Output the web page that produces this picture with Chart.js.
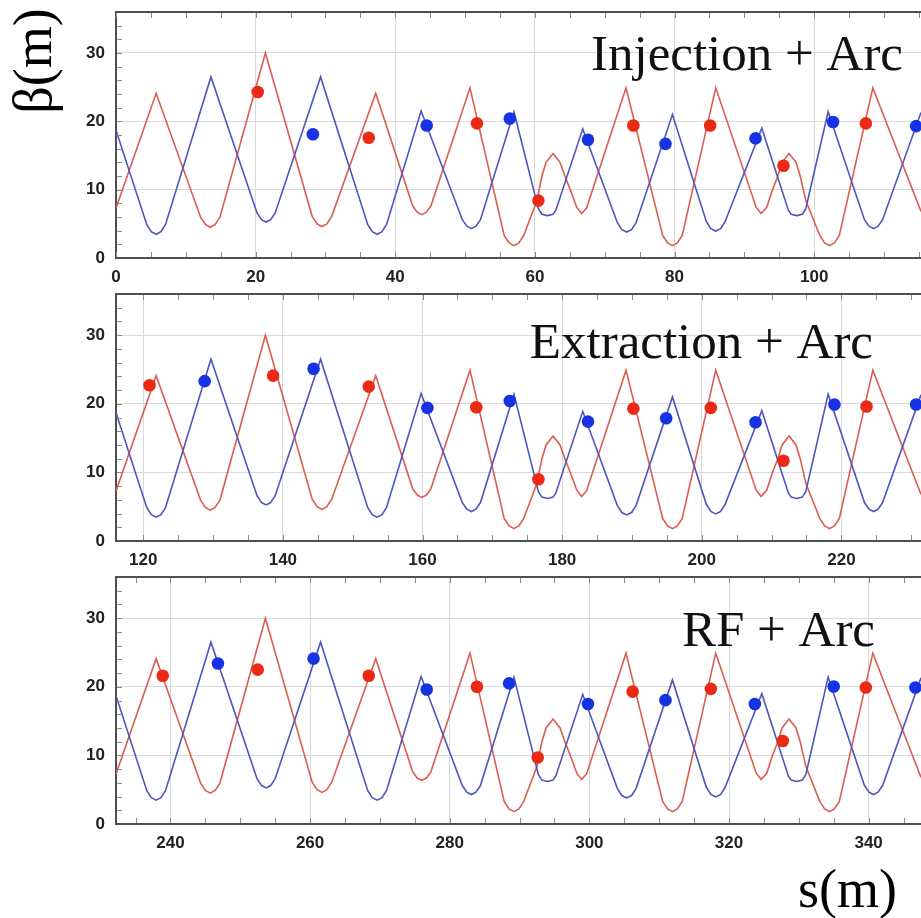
<!DOCTYPE html>
<html><head><meta charset="utf-8">
<script src="https://cdn.jsdelivr.net/npm/chart.js@4.4.1/dist/chart.umd.min.js"></script>
<style>
html,body{margin:0;padding:0;background:#fff;width:921px;height:918px;overflow:hidden;position:relative}
canvas{position:absolute;left:0}
.lbl{position:absolute;font-family:"Liberation Serif",serif;font-size:54px;line-height:1;color:#000;white-space:nowrap}
#ylab{left:33px;top:61px;transform:translate(-50%,-50%) rotate(-90deg)}
#xlab{left:798px;top:862px}
</style></head><body>
<div id="ylab" class="lbl">β(m)</div>
<div id="xlab" class="lbl">s(m)</div>
<canvas id="c0" width="921" height="293" style="top:0px"></canvas>
<canvas id="c1" width="921" height="294" style="top:282px"></canvas>
<canvas id="c2" width="921" height="294" style="top:565px"></canvas>
<script>
// ---- data ----
const panelTitles = ['Injection + Arc', 'Extraction + Arc', 'RF + Arc'];
const panelStart = [0, 116.1, 232.2];
const panelSpan = 115.3;
const xTickValues = [[0, 20, 40, 60, 80, 100], [120, 140, 160, 180, 200, 220], [240, 260, 280, 300, 320, 340]];
const yTickValues = [0, 10, 20, 30];

// beta functions along one superperiod (s measured from panel start)
const cellRedS = [0, 5.75,
  12.1, 12.8, 13.5, 14.2, 14.9, 21.4,
  28.1, 28.8, 29.5, 30.2, 30.9, 37.2,
  42.5, 43.15, 43.8, 44.45, 45.1, 50.7,
  55.6, 56.3, 57.0, 57.7, 58.4, 60.3, 61.0, 61.6, 62.6, 63.6, 64.3, 65.1, 66.0, 66.7, 67.4, 73.05,
  78.3, 79.0, 79.7, 80.4, 81.1, 85.9,
  91.7, 92.4, 93.2, 94.0, 94.8, 95.4, 96.4, 97.4, 98.0, 98.8,
  100.8, 101.5, 102.2, 102.9, 103.6, 108.4, 115.3];
const cellRedBeta = [7.3, 24.1,
  6.0, 4.9, 4.5, 4.9, 6.0, 30.0,
  6.1, 5.0, 4.6, 5.0, 6.1, 24.1,
  7.6, 6.7, 6.35, 6.7, 7.6, 24.9,
  3.3, 2.2, 1.8, 2.2, 3.3, 8.4, 12.0, 14.0, 15.3, 14.0, 12.0, 9.9, 7.4, 6.5, 7.3, 24.9,
  3.3, 2.2, 1.8, 2.2, 3.3, 24.9,
  7.4, 6.5, 7.4, 9.9, 12.0, 14.0, 15.3, 14.0, 12.0, 8.4,
  3.3, 2.2, 1.8, 2.2, 3.3, 24.9, 6.8];
const cellBlueS = [0,
  4.4, 5.05, 5.75, 6.45, 7.1, 13.6,
  20.2, 20.85, 21.5, 22.15, 22.8, 29.3,
  36.05, 36.7, 37.4, 38.1, 38.75, 43.7,
  49.6, 50.25, 50.9, 51.55, 52.2, 57.0,
  60.5, 61.0, 61.8, 62.6, 63.0, 66.85,
  71.8, 72.45, 73.15, 73.85, 74.5, 79.7,
  84.55, 85.2, 85.9, 86.6, 87.25, 92.5,
  96.3, 96.7, 97.5, 98.3, 98.8, 102.0,
  107.2, 107.85, 108.5, 109.15, 109.8, 115.3];
const cellBlueBeta = [18.7,
  4.9, 3.85, 3.47, 3.85, 4.9, 26.5,
  6.6, 5.6, 5.27, 5.6, 6.6, 26.5,
  4.9, 3.85, 3.47, 3.85, 4.9, 21.5,
  5.6, 4.65, 4.3, 4.65, 5.6, 21.4,
  7.2, 6.4, 6.2, 6.4, 7.0, 18.9,
  5.2, 4.15, 3.8, 4.15, 5.2, 21.0,
  5.35, 4.3, 3.95, 4.3, 5.35, 19.0,
  7.0, 6.4, 6.2, 6.4, 7.2, 21.4,
  5.6, 4.65, 4.3, 4.65, 5.6, 21.3];

// measured points
const injRedS = [20.3, 36.2, 51.7, 60.5, 74.1, 85.1, 95.6, 107.4];
const injRedBeta = [24.3, 17.6, 19.7, 8.4, 19.4, 19.4, 13.5, 19.7];
const injBlueS = [28.2, 44.5, 56.4, 67.6, 78.7, 91.6, 102.7, 114.6];
const injBlueBeta = [18.1, 19.4, 20.4, 17.3, 16.7, 17.5, 19.9, 19.3];
const extRedS = [120.9, 138.6, 152.3, 167.7, 176.6, 190.2, 201.3, 211.7, 223.6];
const extRedBeta = [22.7, 24.1, 22.5, 19.5, 9.0, 19.3, 19.4, 11.7, 19.6];
const extBlueS = [128.8, 144.4, 160.7, 172.5, 183.7, 194.9, 207.7, 219.0, 230.7];
const extBlueBeta = [23.3, 25.1, 19.4, 20.4, 17.4, 17.9, 17.3, 19.9, 19.9];
const rfRedS = [238.9, 252.5, 268.4, 283.9, 292.6, 306.2, 317.4, 327.7, 339.6];
const rfRedBeta = [21.6, 22.5, 21.6, 20.0, 9.7, 19.3, 19.7, 12.1, 19.9];
const rfBlueS = [246.8, 260.5, 276.7, 288.5, 299.8, 310.9, 323.7, 335.0, 346.7];
const rfBlueBeta = [23.4, 24.1, 19.6, 20.5, 17.5, 18.05, 17.5, 20.05, 19.9];

// ---- styling ----
const RED_LINE = '#dc5c52', BLUE_LINE = '#4d56bd', RED_DOT = '#ea2a14', BLUE_DOT = '#1632e2';
const FRAME = '#4f4f4f', GRID = '#d9d9d9';
const titleLayout = [{right: 18, base: 58}, {right: 48, base: 64}, {right: 46, base: 69}];
const dotSets = [
  [injRedS, injRedBeta, injBlueS, injBlueBeta],
  [extRedS, extRedBeta, extBlueS, extBlueBeta],
  [rfRedS, rfRedBeta, rfBlueS, rfBlueBeta]
];

function framePlugin(k) {
  return {
    id: 'frame' + k,
    afterDraw(chart) {
      const ctx = chart.ctx, a = chart.chartArea;
      const xs = chart.scales.x, ys = chart.scales.y;
      ctx.save();
      // minor ticks inside the frame
      ctx.strokeStyle = '#8a8a8a'; ctx.lineWidth = 1;
      ctx.beginPath();
      for (let v = Math.ceil(xs.min / 5) * 5; v <= xs.max; v += 5) {
        const px = Math.round(xs.getPixelForValue(v)) + 0.5;
        ctx.moveTo(px, a.bottom - 1); ctx.lineTo(px, a.bottom - 6);
        ctx.moveTo(px, a.top + 1); ctx.lineTo(px, a.top + 6);
      }
      for (let v = 2; v < ys.max; v += 2) {
        const py = Math.round(ys.getPixelForValue(v)) + 0.5;
        ctx.moveTo(a.left + 1, py); ctx.lineTo(a.left + 6, py);
      }
      ctx.stroke();
      // top border
      ctx.strokeStyle = FRAME; ctx.lineWidth = 2;
      ctx.beginPath(); ctx.moveTo(a.left - 1, a.top); ctx.lineTo(a.right, a.top); ctx.stroke();
      // panel title
      ctx.font = '51px "Liberation Serif", serif';
      ctx.fillStyle = '#111'; ctx.textAlign = 'right'; ctx.textBaseline = 'alphabetic';
      ctx.fillText(panelTitles[k], a.right - titleLayout[k].right, a.top + titleLayout[k].base);
      ctx.restore();
    }
  };
}

function makeChart(k) {
  const s0 = panelStart[k];
  const shifted = (S, B) => S.map((s, i) => ({x: s + s0, y: B[i]}));
  const pts = (S, B) => S.map((s, i) => ({x: s, y: B[i]}));
  const d = dotSets[k];
  const tickFont = {family: '"Liberation Sans", Arial, sans-serif', weight: 'bold', size: 17};
  new Chart(document.getElementById('c' + k), {
    type: 'scatter',
    data: {datasets: [
      {data: shifted(cellRedS, cellRedBeta), showLine: true, borderColor: RED_LINE, borderWidth: 1.6, pointRadius: 0, tension: 0, order: 4},
      {data: shifted(cellBlueS, cellBlueBeta), showLine: true, borderColor: BLUE_LINE, borderWidth: 1.6, pointRadius: 0, tension: 0, order: 3},
      {data: pts(d[0], d[1]), pointRadius: 6.3, pointBackgroundColor: RED_DOT, pointBorderWidth: 0, showLine: false, order: 2, clip: false},
      {data: pts(d[2], d[3]), pointRadius: 6.3, pointBackgroundColor: BLUE_DOT, pointBorderWidth: 0, showLine: false, order: 1, clip: false}
    ]},
    options: {
      responsive: false, animation: false, devicePixelRatio: 1,
      layout: {autoPadding: false, padding: {top: 12, left: 0, right: 0, bottom: 0}},
      plugins: {legend: {display: false}, tooltip: {enabled: false}, title: {display: false}},
      scales: {
        x: {
          type: 'linear', min: s0, max: s0 + panelSpan,
          afterBuildTicks: sc => { sc.ticks = xTickValues[k].map(v => ({value: v})); },
          afterFit: sc => { sc.height = 35; sc.paddingLeft = 0; sc.paddingRight = 0; },
          grid: {color: GRID, lineWidth: 1, drawTicks: false},
          border: {display: true, color: FRAME, width: 2},
          ticks: {padding: 9, font: tickFont, color: '#222', maxRotation: 0, autoSkip: false}
        },
        y: {
          type: 'linear', min: 0, max: 36,
          afterBuildTicks: sc => { sc.ticks = yTickValues.map(v => ({value: v})); },
          afterFit: sc => { sc.width = 116; sc.paddingTop = 0; sc.paddingBottom = 0; },
          grid: {color: GRID, lineWidth: 1, drawTicks: false},
          border: {display: true, color: FRAME, width: 2},
          ticks: {padding: 11, font: tickFont, color: '#222'}
        }
      }
    },
    plugins: [framePlugin(k)]
  });
}
[0, 1, 2].forEach(makeChart);
</script>
</body></html>
